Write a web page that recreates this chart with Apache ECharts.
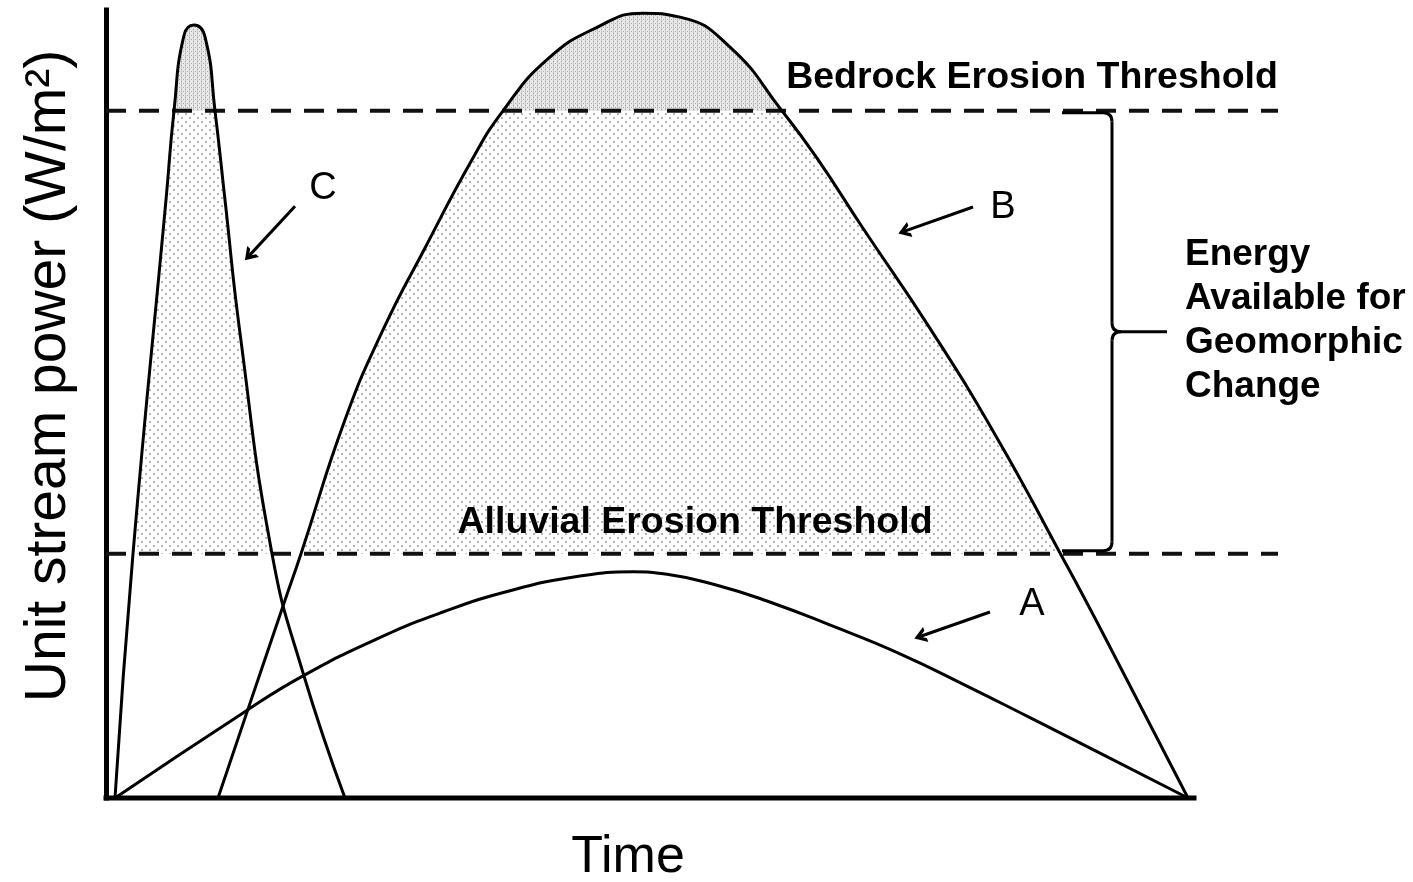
<!DOCTYPE html>
<html>
<head>
<meta charset="utf-8">
<script src="https://cdn.jsdelivr.net/npm/echarts@6/dist/echarts.min.js"></script>
<style>
  html, body { margin: 0; padding: 0; background: #fff; }
  #chart { width: 1413px; height: 882px; }
</style>
</head>
<body>
<div id="chart"></div>
<script>
// ---------------- data (conceptual units: time, unit stream power) ----------------
const TIME_END = 108.8;           // end of the time axis
const THRESHOLD_END = 117.2;      // dashed threshold lines run a bit past the time axis
const POWER_MAX = 100;
const BEDROCK = 87.2;             // bedrock erosion threshold
const ALLUVIAL = 31.0;            // alluvial erosion threshold

const curveA = [[0.9,0],[13.7,10.8],[19.7,15.5],[27.1,20.2],[33.7,23.6],[40.4,26.3],[47.1,28.1],[52.7,28.7],[56.1,28.4],[61.1,27.0],[66.1,25.0],[72.7,21.8],[79.4,18.3],[86.1,14.2],[92.7,10.0],[99.4,5.7],[108.2,0]];
const curveB = [[11.2,0],[14.1,10.9],[17.9,25.1],[19.5,31.0],[23.9,48.0],[27.7,59.4],[31.9,69.8],[36.6,81.0],[39.7,87.2],[44.1,93.7],[49.1,97.8],[53.7,99.6],[57.4,99.1],[62.4,95.3],[67.6,87.2],[71.1,81.2],[75.7,72.3],[82.4,59.6],[89.1,45.7],[95.4,31.1],[99.4,21.6],[108.2,0]];
const curveC = [[0.9,0],[2.7,31.0],[6.0,75.9],[6.8,87.2],[7.8,96.8],[8.8,98.1],[9.9,96.6],[10.9,87.2],[11.9,75.9],[13.4,59.0],[16.6,31.0],[19.7,15.9],[23.9,0]];

const curveNames = ['A', 'B', 'C'];
const thresholdNames = ['Bedrock Erosion Threshold', 'Alluvial Erosion Threshold'];
const braceText = 'Energy\nAvailable for\nGeomorphic\nChange';
const xAxisName = 'Time';
const yAxisName = 'Unit stream power (W/m²)';

// ---------------- annotation placement (data coordinates) ----------------
const curveLabelPos = { A: [92.6, 24.6], B: [89.7, 74.9], C: [21.7, 77.4] };
const arrowPos = {
  A: [[88.4, 23.6], [81.4, 20.5]],
  B: [[86.7, 75.0], [79.8, 71.9]],
  C: [[18.9, 75.1], [14.3, 68.8]]
};
const thresholdLabelPos = [[92.6, 91.4], [58.9, 35.0]];
const braceLabelPos = [107.9, 60.6];
const braceX = [95.6, 100.6, 106.1];

// ---------------- helpers ----------------
const FONT = 'Liberation Sans, Arial, sans-serif';
function makePattern(size, bg, draw) {
  const c = document.createElement('canvas');
  c.width = size; c.height = size;
  const g = c.getContext('2d');
  if (bg) { g.fillStyle = bg; g.fillRect(0, 0, size, size); }
  draw(g);
  return c;
}
const lightDots = makePattern(8, null, g => {
  g.fillStyle = '#b4b4b4';
  g.fillRect(1, 1, 2, 2);
  g.fillRect(5, 5, 2, 2);
});
const darkDots = makePattern(4, '#e9e9e9', g => {
  g.fillStyle = '#c9c9c9';
  g.fillRect(1, 0, 1, 4);
  g.fillStyle = '#a8a8a8';
  g.fillRect(1, 1, 1, 1);
  g.fillRect(3, 3, 1, 1);
});
const above = (arr, t) => arr.filter(p => p[1] >= t - 1e-9);

const SMOOTH = 0.5;
function fillSeries(data, origin, pattern, z) {
  return {
    type: 'line', data, smooth: SMOOTH, symbol: 'none', silent: true, z,
    lineStyle: { opacity: 0, width: 0 },
    areaStyle: { origin, color: { image: pattern, repeat: 'repeat' }, opacity: 1 }
  };
}
function curveSeries(name, data) {
  return {
    name, type: 'line', data, smooth: SMOOTH, symbol: 'none', z: 6,
    lineStyle: { color: '#000', width: 3 }
  };
}
function thresholdSeries(value) {
  return {
    type: 'line', data: [[0, value], [THRESHOLD_END, value]], symbol: 'none', clip: false, z: 5,
    lineStyle: { color: '#111', width: 4, type: [20, 13] }
  };
}

const chevron = 'path://M0,12 L8,0 L16,12 L12,12 L8,6 L4,12 Z';

const labelData = [];
curveNames.forEach(n => labelData.push({
  name: n, value: curveLabelPos[n],
  label: { fontSize: 38, fontWeight: 'normal', align: 'center', verticalAlign: 'middle' }
}));
thresholdNames.forEach((t, i) => labelData.push({
  name: t, value: thresholdLabelPos[i],
  label: { fontSize: 37.5, fontWeight: 'bold', align: 'center', verticalAlign: 'middle' }
}));
labelData.push({
  name: braceText, value: braceLabelPos,
  label: { fontSize: 37, fontWeight: 'bold', align: 'left', verticalAlign: 'middle', lineHeight: 44 }
});

const option = {
  animation: false,
  backgroundColor: '#fff',
  grid: { left: 106, top: 10, right: 1413 - 106 - 1172, bottom: 84, containLabel: false, outerBoundsMode: 'none' },
  xAxis: {
    type: 'value', min: 0, max: THRESHOLD_END,
    axisLine: { show: false },
    axisTick: { show: false }, axisLabel: { show: false }, splitLine: { show: false },
    name: xAxisName, nameLocation: 'middle', nameGap: 34,
    nameTextStyle: { fontSize: 52, color: '#000', fontFamily: FONT, padding: [0, 128, 0, 0] }
  },
  yAxis: {
    type: 'value', min: 0, max: POWER_MAX,
    axisLine: { show: true, onZero: false, lineStyle: { color: '#000', width: 5, cap: 'square' } },
    axisTick: { show: false }, axisLabel: { show: false }, splitLine: { show: false },
    name: yAxisName, nameLocation: 'middle', nameRotate: 90, nameGap: 28,
    nameTextStyle: { fontSize: 57, color: '#000', fontFamily: FONT, padding: [0, 0, 0, 56] }
  },
  series: [
    fillSeries(above(curveC, ALLUVIAL), ALLUVIAL, lightDots, 1),
    fillSeries(above(curveB, ALLUVIAL), ALLUVIAL, lightDots, 1),
    fillSeries(above(curveC, BEDROCK), BEDROCK, darkDots, 2),
    fillSeries(above(curveB, BEDROCK), BEDROCK, darkDots, 2),
    thresholdSeries(BEDROCK),
    thresholdSeries(ALLUVIAL),
    curveSeries('A', curveA),
    curveSeries('B', curveB),
    curveSeries('C', curveC),
    { // time axis line (ends where the time span ends, before the threshold lines)
      type: 'line', data: [[0, 0], [TIME_END, 0]], symbol: 'none', clip: false, silent: true, z: 9,
      lineStyle: { color: '#000', width: 5, cap: 'square' }
    },
    {
      type: 'scatter', data: labelData, symbolSize: 0, clip: false, silent: true, z: 8,
      itemStyle: { opacity: 1 },
      label: {
        show: true, position: 'inside', color: '#000', opacity: 1, fontFamily: FONT,
        formatter: p => p.name
      },
      markLine: {
        silent: true, symbol: ['none', chevron], symbolSize: [16, 12],
        lineStyle: { color: '#000', width: 3, type: 'solid', opacity: 1 },
        label: { show: false },
        data: curveNames.map(n => [{ coord: arrowPos[n][0] }, { coord: arrowPos[n][1] }])
      }
    },
    {
      type: 'custom', silent: true, z: 7, clip: false,
      data: [[braceX[0], braceX[1], braceX[2], BEDROCK, ALLUVIAL]],
      encode: { x: [0, 1, 2], y: [3, 4] },
      renderItem: (params, api) => {
        const pTop = api.coord([api.value(0), api.value(3)]);
        const pBot = api.coord([api.value(0), api.value(4)]);
        const x0 = pTop[0];
        const xv = api.coord([api.value(1), 0])[0];
        const xt = api.coord([api.value(2), 0])[0];
        const yT = pTop[1] + 2, yB = pBot[1] - 3, ym = (yT + yB) / 2;
        const r = 9;
        const st = { stroke: '#000', lineWidth: 3, fill: null };
        const L = (a, b, c, d) => ({ type: 'line', shape: { x1: a, y1: b, x2: c, y2: d }, style: st });
        const Q = (a, b, cx, cy, c, d) => ({ type: 'bezierCurve', shape: { x1: a, y1: b, cpx1: cx, cpy1: cy, x2: c, y2: d }, style: st });
        return {
          type: 'group',
          children: [
            L(x0, yT, xv - r, yT),
            Q(xv - r, yT, xv, yT, xv, yT + r),
            L(xv, yT + r, xv, ym - r),
            Q(xv, ym - r, xv, ym, xv + r, ym),
            L(xv + r, ym, xt, ym),
            Q(xv, ym + r, xv, ym, xv + r, ym),
            L(xv, ym + r, xv, yB - r),
            Q(xv, yB - r, xv, yB, xv - r, yB),
            L(xv - r, yB, x0, yB)
          ]
        };
      }
    }
  ]
};

const chart = echarts.init(document.getElementById('chart'), null, { renderer: 'canvas' });
chart.setOption(option);
</script>
</body>
</html>
